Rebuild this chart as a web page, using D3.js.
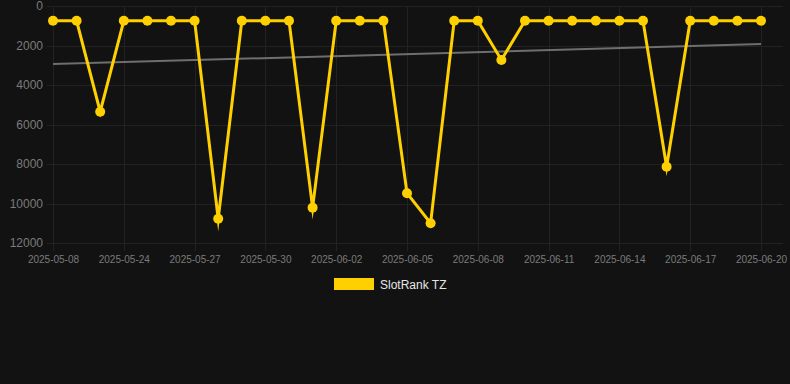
<!DOCTYPE html>
<html>
<head>
<meta charset="utf-8">
<style>
    body { margin: 0; background: #121212; }
    svg { display: block; font-family: "Liberation Sans", Arial, sans-serif; }
</style>
</head>
<body>
<svg width="790" height="384"></svg>
<script src="https://d3js.org/d3.v7.min.js"></script>
<script>
    // categories (one per point), tick labels every third point
    const dates = [
        "2025-05-08", "2025-05-22", "2025-05-23", "2025-05-24", "2025-05-25", "2025-05-26",
        "2025-05-27", "2025-05-28", "2025-05-29", "2025-05-30", "2025-05-31", "2025-06-01",
        "2025-06-02", "2025-06-03", "2025-06-04", "2025-06-05", "2025-06-06", "2025-06-07",
        "2025-06-08", "2025-06-09", "2025-06-10", "2025-06-11", "2025-06-12", "2025-06-13",
        "2025-06-14", "2025-06-15", "2025-06-16", "2025-06-17", "2025-06-18", "2025-06-19",
        "2025-06-20"
    ];
    const ranks = [
        750, 750, 5350, 750, 750, 750, 750, 10770, 750, 750, 750, 10210,
        750, 750, 750, 9480, 11000, 750, 750, 2730, 750, 750, 750, 750,
        750, 750, 8140, 750, 750, 750, 750
    ];
    const trendStart = 2940, trendEnd = 1930;
    const yTicks = [0, 2000, 4000, 6000, 8000, 10000, 12000];
    const seriesName = "SlotRank TZ";

    const svg = d3.select("svg");
    const plotLeft = 53, plotRight = 761, plotTop = 6, plotBottom = 243;

    const x = d3.scalePoint().domain(dates).range([plotLeft, plotRight]).padding(0);
    const y = d3.scaleLinear().domain([0, 12000]).range([plotTop, plotBottom]);

    const xTickVals = dates.filter((d, i) => i % 3 === 0);

    // grid
    const grid = svg.append("g").attr("stroke", "#222").attr("stroke-width", 1);
    yTicks.forEach(t => {
        grid.append("line")
            .attr("x1", plotLeft - 6).attr("x2", plotRight + 22)
            .attr("y1", Math.round(y(t)) + 0.5).attr("y2", Math.round(y(t)) + 0.5);
    });
    xTickVals.forEach(d => {
        grid.append("line")
            .attr("x1", Math.round(x(d)) + 0.5).attr("x2", Math.round(x(d)) + 0.5)
            .attr("y1", plotTop).attr("y2", plotBottom + 8);
    });

    // y axis labels
    const yAxis = svg.append("g")
        .attr("transform", `translate(${plotLeft - 10},0)`)
        .call(d3.axisLeft(y).tickValues(yTicks).tickSize(0).tickPadding(0).tickFormat(d3.format("d")));
    yAxis.select(".domain").remove();
    yAxis.selectAll("text").attr("fill", "#7b7b7b").attr("font-size", "12px")
        .attr("font-family", "Liberation Sans, Arial, sans-serif");

    // x axis labels
    const xAxis = svg.append("g")
        .attr("transform", `translate(0,${plotBottom + 13})`)
        .call(d3.axisBottom(x).tickValues(xTickVals).tickSize(0).tickPadding(0));
    xAxis.select(".domain").remove();
    xAxis.selectAll("text").attr("fill", "#7b7b7b").attr("font-size", "10px")
        .attr("font-family", "Liberation Sans, Arial, sans-serif");

    // trend line
    svg.append("line")
        .attr("x1", x(dates[0])).attr("y1", y(trendStart))
        .attr("x2", x(dates[dates.length - 1])).attr("y2", y(trendEnd))
        .attr("stroke", "#6e6e6e").attr("stroke-width", 2);

    // series line
    const line = d3.line().x((d, i) => x(dates[i])).y(d => y(d));
    svg.append("path")
        .datum(ranks)
        .attr("d", line)
        .attr("fill", "none")
        .attr("stroke", "#ffd000")
        .attr("stroke-width", 3)
        .attr("stroke-linejoin", "miter")
        .attr("stroke-miterlimit", 10);

    svg.append("g").selectAll("circle")
        .data(ranks)
        .join("circle")
        .attr("cx", (d, i) => x(dates[i]))
        .attr("cy", d => y(d))
        .attr("r", 5)
        .attr("fill", "#ffd000");

    // legend
    svg.append("rect")
        .attr("x", 334).attr("y", 278).attr("width", 40).attr("height", 12)
        .attr("fill", "#ffd000");
    svg.append("text")
        .attr("x", 380).attr("y", 289)
        .attr("fill", "#e6e6e6").attr("font-size", "12px")
        .text(seriesName);
</script>
</body>
</html>
